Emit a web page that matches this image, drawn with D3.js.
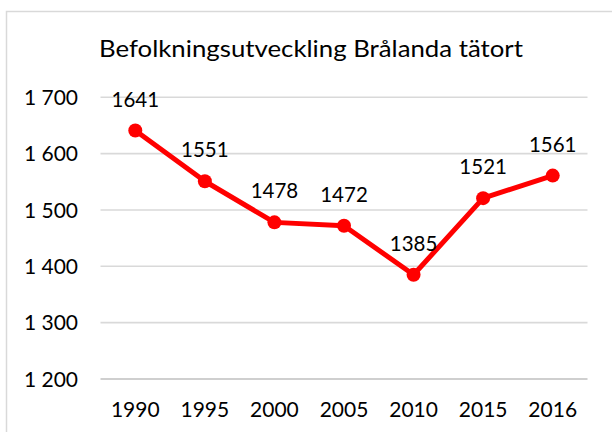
<!DOCTYPE html>
<html>
<head>
<meta charset="utf-8">
<script src="https://cdn.jsdelivr.net/npm/d3@7"></script>
<style>
  body { margin: 0; background: #fff; }
  text { font-family: Lato, "Liberation Sans", Arial, sans-serif; fill: #000; }
</style>
</head>
<body>
<script>
// data
var years = ["1990", "1995", "2000", "2005", "2010", "2015", "2016"];
var population = [1641, 1551, 1478, 1472, 1385, 1521, 1561];
var yTicks = [1200, 1300, 1400, 1500, 1600, 1700];
var title = "Befolkningsutveckling Brålanda tätort";

var width = 612, height = 432;

var svg = d3.select("body").append("svg")
  .attr("width", width)
  .attr("height", height);

// chart frame (cut off at right and bottom)
svg.append("rect")
  .attr("x", 6.5).attr("y", 11.5)
  .attr("width", 640).attr("height", 460)
  .attr("fill", "#fff")
  .attr("stroke", "#d9d9d9")
  .attr("stroke-width", 1.5);

var x = d3.scaleBand().domain(years).range([100.5, 587.5]);
var y = d3.scaleLinear().domain([1200, 1700]).range([379, 97.3]);

// gridlines
svg.append("g").selectAll("line")
  .data(yTicks)
  .enter().append("line")
  .attr("x1", 100.5).attr("x2", 587.5)
  .attr("y1", function (d) { return y(d); })
  .attr("y2", function (d) { return y(d); })
  .attr("stroke", function (d) { return d === 1200 ? "#bfbfbf" : "#d9d9d9"; })
  .attr("stroke-width", 1.6);

// y tick labels
svg.append("g").selectAll("text")
  .data(yTicks)
  .enter().append("text")
  .attr("x", 78)
  .attr("y", function (d) { return y(d); })
  .attr("dy", "0.36em")
  .attr("text-anchor", "end")
  .style("font-size", "21px")
  .text(function (d) { return d3.format(",")(d).replace(",", " "); });

// x tick labels
svg.append("g").selectAll("text")
  .data(years)
  .enter().append("text")
  .attr("x", function (d) { return x(d) + x.bandwidth() / 2; })
  .attr("y", 417.3)
  .attr("text-anchor", "middle")
  .style("font-size", "21px")
  .text(function (d) { return d; });

// the line
var line = d3.line()
  .x(function (d, i) { return x(years[i]) + x.bandwidth() / 2; })
  .y(function (d) { return y(d); });

svg.append("path")
  .datum(population)
  .attr("d", line)
  .attr("fill", "none")
  .attr("stroke", "#ff0000")
  .attr("stroke-width", 5)
  .attr("stroke-linejoin", "round");

svg.append("g").selectAll("circle")
  .data(population)
  .enter().append("circle")
  .attr("cx", function (d, i) { return x(years[i]) + x.bandwidth() / 2; })
  .attr("cy", function (d) { return y(d); })
  .attr("r", 7)
  .attr("fill", "#ff0000");

// data labels
svg.append("g").selectAll("text")
  .data(population)
  .enter().append("text")
  .attr("x", function (d, i) { return x(years[i]) + x.bandwidth() / 2; })
  .attr("y", function (d) { return y(d) - 24; })
  .attr("text-anchor", "middle")
  .style("font-size", "20.5px")
  .text(function (d) { return d; });

// title
var t = svg.append("text")
  .attr("x", 311)
  .attr("y", 56.7)
  .attr("text-anchor", "middle")
  .style("font-size", "24px")
  .text(title);
var w = t.node().getComputedTextLength();
if (Math.abs(w - 424) > 4) {
  t.attr("textLength", 424).attr("lengthAdjust", "spacingAndGlyphs");
}
</script>
</body>
</html>
